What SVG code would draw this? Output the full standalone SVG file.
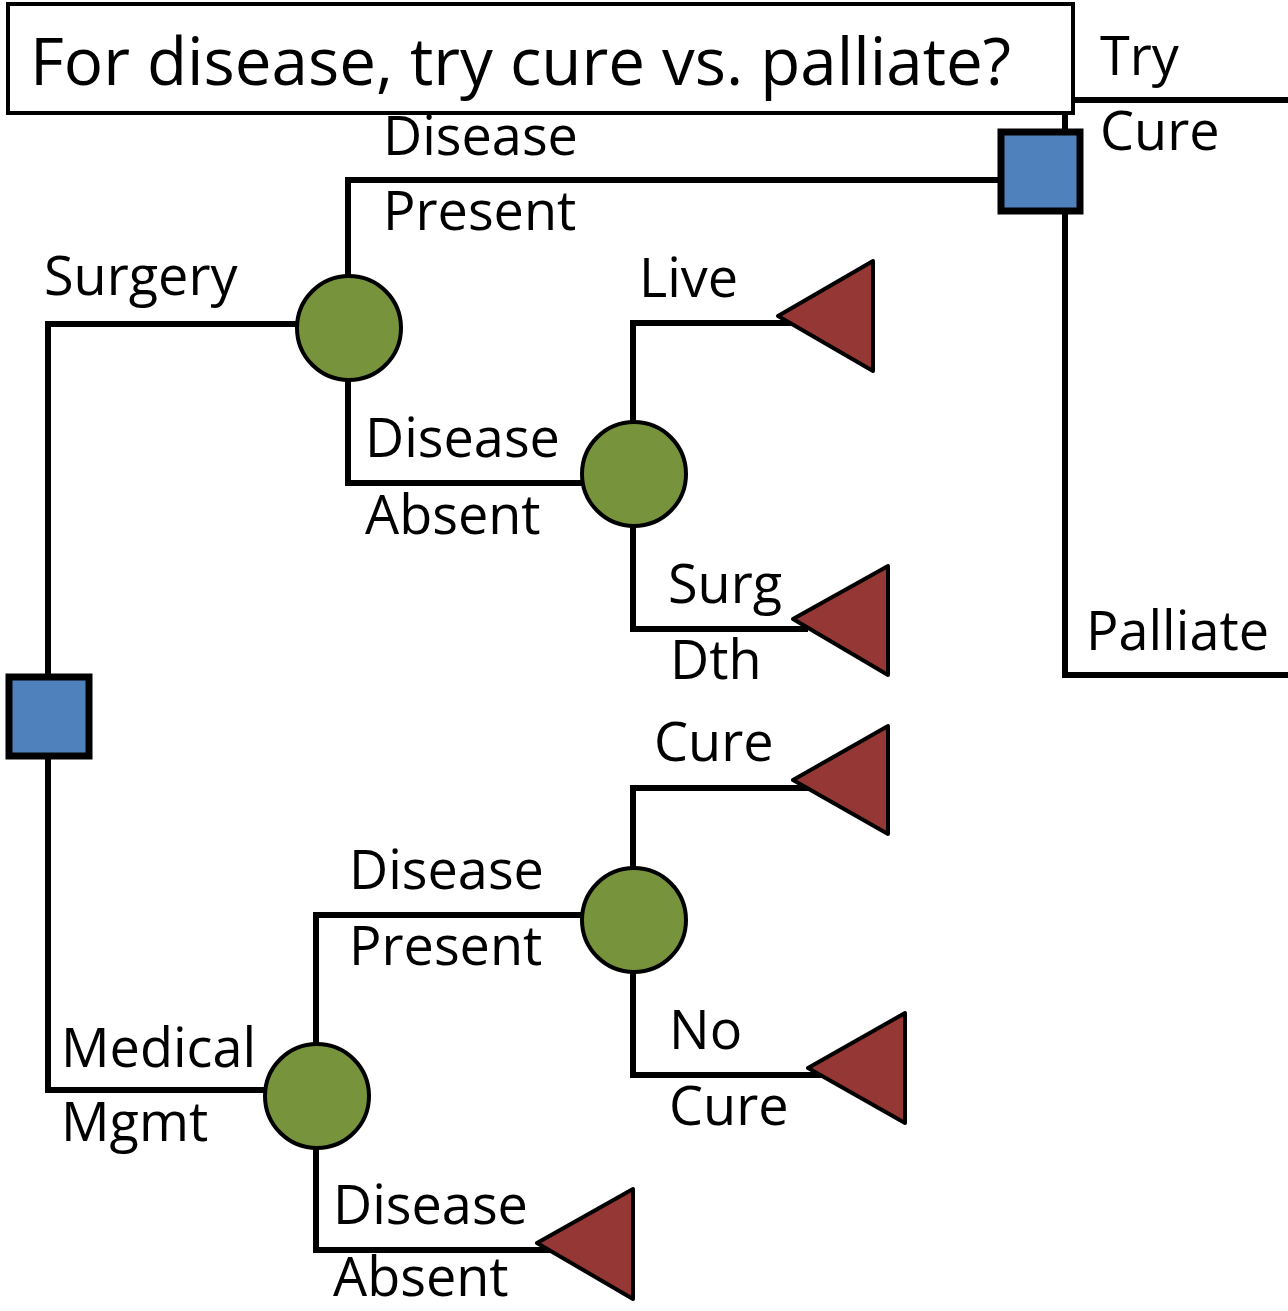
<svg xmlns="http://www.w3.org/2000/svg" width="1288" height="1311" viewBox="0 0 1288 1311">
<style>
.t{font-family:"Open Sans","Noto Sans",sans-serif;font-size:54px;fill:#000}
.ln{fill:none;stroke:#000;stroke-width:6;stroke-linecap:square}
.dec{fill:#4F81BD;stroke:#000;stroke-width:7}
.ch{fill:#77933C;stroke:#000;stroke-width:4}
.term{fill:#953735;stroke:#000;stroke-width:4;stroke-linejoin:round}
</style>
<rect width="1288" height="1311" fill="#fff"/>
<g id="connectors">
<polyline class="ln" points="1075,100 1285,100"/>
<polyline class="ln" points="1065,113 1065,131"/>
<polyline class="ln" points="1065,212 1065,675 1285,675"/>
<polyline class="ln" points="1000,180 348,180 348,276"/>
<polyline class="ln" points="297,324 48,324 48,676"/>
<polyline class="ln" points="348,380 348,483 582,483"/>
<polyline class="ln" points="633,422 633,323 790,323"/>
<polyline class="ln" points="633,526 633,629 805,629"/>
<polyline class="ln" points="48,757 48,1090 265,1090"/>
<polyline class="ln" points="316,1044 316,915 582,915"/>
<polyline class="ln" points="633,868 633,788 805,788"/>
<polyline class="ln" points="633,972 633,1075 820,1075"/>
<polyline class="ln" points="316,1148 316,1250 550,1250"/>
</g>
<g id="title">
<rect x="8" y="4" width="1065" height="109" fill="#fff" stroke="#000" stroke-width="4"/>
<text class="t" x="30" y="85" style="font-size:65.5px">For disease, try cure vs. palliate?</text>
</g>
<g id="decision-top"><rect class="dec" x="1001" y="132" width="79" height="79"/></g>
<g id="decision-main"><rect class="dec" x="9" y="677" width="80" height="79"/></g>
<g id="chance-surgery"><circle class="ch" cx="349" cy="328" r="52"/></g>
<g id="chance-absent"><circle class="ch" cx="634" cy="474" r="52"/></g>
<g id="chance-medical"><circle class="ch" cx="317" cy="1096" r="52"/></g>
<g id="chance-present"><circle class="ch" cx="634" cy="920" r="52"/></g>
<g id="term-live"><polygon class="term" points="778,316 873,261 873,371"/></g>
<g id="term-surgdth"><polygon class="term" points="793,619 888,566 888,675"/></g>
<g id="term-cure"><polygon class="term" points="793,780 888,726 888,834"/></g>
<g id="term-nocure"><polygon class="term" points="808,1068 905,1013 905,1123"/></g>
<g id="term-absent"><polygon class="term" points="537,1243 633,1189 633,1299"/></g>
<g id="labels">
<text class="t" x="1100" y="75">Try</text>
<text class="t" x="1100" y="150">Cure</text>
<text class="t" x="1086" y="650">Palliate</text>
<text class="t" x="383" y="155">Disease</text>
<text class="t" x="383" y="230">Present</text>
<text class="t" x="44" y="295">Surgery</text>
<text class="t" x="639" y="297">Live</text>
<text class="t" x="365" y="457">Disease</text>
<text class="t" x="365" y="534">Absent</text>
<text class="t" x="668" y="603">Surg</text>
<text class="t" x="670" y="679">Dth</text>
<text class="t" x="654" y="761">Cure</text>
<text class="t" x="349" y="889">Disease</text>
<text class="t" x="349" y="965">Present</text>
<text class="t" x="669" y="1049">No</text>
<text class="t" x="669" y="1125">Cure</text>
<text class="t" x="61" y="1067">Medical</text>
<text class="t" x="61" y="1141">Mgmt</text>
<text class="t" x="333" y="1224">Disease</text>
<text class="t" x="333" y="1296">Absent</text>
</g>
</svg>
